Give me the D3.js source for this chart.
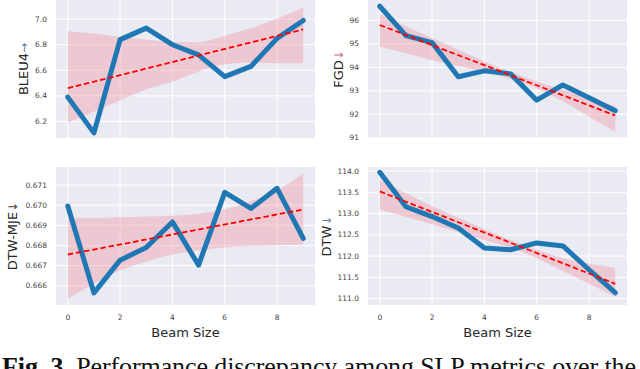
<!DOCTYPE html>
<html><head><meta charset="utf-8">
<script src="https://cdn.jsdelivr.net/npm/d3@7"></script>
<style>body{margin:0;background:#fff}svg{display:block}</style>
</head><body>
<svg id="c" width="640" height="369"></svg>
<script>
const beam = [0,1,2,3,4,5,6,7,8,9];
const xTicks = [0,2,4,6,8];

const bleu = [6.39,6.11,6.84,6.93,6.80,6.72,6.55,6.63,6.85,6.99];
const bleuTrend = [6.46,6.92];
const bleuLo = [6.19,6.275,6.366,6.45,6.51,6.59,6.647,6.66,6.655,6.655];
const bleuHi = [6.906,6.888,6.86,6.84,6.82,6.82,6.87,6.93,7.005,7.09];
const bleuTicks = [6.2,6.4,6.6,6.8,7.0];

const fgd = [96.6,95.35,95.05,93.6,93.85,93.72,92.6,93.25,92.7,92.15];
const fgdTrend = [95.8,91.95];
const fgdLo = [94.88,94.60,94.30,94.05,93.80,93.50,93.10,92.55,91.90,91.26];
const fgdHi = [96.27,95.75,95.25,94.75,94.25,93.80,93.40,93.05,92.70,92.35];
const fgdTicks = [91,92,93,94,95,96];

const mje = [0.66996,0.66564,0.66727,0.66790,0.66917,0.66702,0.67064,0.66984,0.67084,0.66835];
const mjeTrend = [0.66755,0.66979];
const mjeLo = [0.66536,0.66610,0.66675,0.66720,0.66755,0.66775,0.66790,0.66797,0.66801,0.66805];
const mjeHi = [0.66934,0.66936,0.66940,0.66944,0.66948,0.66958,0.66980,0.67020,0.67075,0.67158];
const mjeTicks = [0.666,0.667,0.668,0.669,0.670,0.671];

const dtw = [113.97,113.16,112.93,112.66,112.19,112.15,112.31,112.24,111.68,111.14];
const dtwTrend = [113.52,111.35];
const dtwLo = [113.09,112.92,112.75,112.56,112.38,112.20,111.95,111.65,111.35,111.04];
const dtwHi = [113.79,113.48,113.18,112.90,112.63,112.38,112.15,111.95,111.82,111.72];
const dtwTicks = [111.0,111.5,112.0,112.5,113.0,113.5,114.0];

const svg = d3.select("#c");
const FONT = "DejaVu Sans, sans-serif";

function panel(o){
  const g = svg.append("g");
  const x = d3.scaleLinear().domain([-0.45,9.45]).range([o.x0,o.x1]);
  const y = d3.scaleLinear().domain(o.ydom).range([o.y1,o.y0]);
  g.append("rect").attr("x",o.x0).attr("y",o.y0).attr("width",o.x1-o.x0).attr("height",o.y1-o.y0).attr("fill","#eaeaf2");
  g.selectAll(".gx").data(xTicks).join("line").attr("x1",d=>x(d)).attr("x2",d=>x(d)).attr("y1",o.y0).attr("y2",o.y1).attr("stroke","#fff").attr("stroke-width",1);
  g.selectAll(".gy").data(o.ticks).join("line").attr("x1",o.x0).attr("x2",o.x1).attr("y1",d=>y(d)).attr("y2",d=>y(d)).attr("stroke","#fff").attr("stroke-width",1);
  g.selectAll(".ty").data(o.ticks).join("text").attr("x",o.x0-9).attr("y",d=>y(d)).attr("dy","0.35em")
    .attr("text-anchor","end").attr("font-family",FONT).attr("font-size",7.5).attr("fill","#444").text(d=>o.fmt(d));
  if(o.xlabels){
    g.selectAll(".tx").data(xTicks).join("text").attr("x",d=>x(d)).attr("y",o.y1+14.5)
      .attr("text-anchor","middle").attr("font-family",FONT).attr("font-size",7.5).attr("fill","#444").text(d=>d);
    g.append("text").attr("x",(o.x0+o.x1)/2).attr("y",o.y1+31.5).attr("text-anchor","middle")
      .attr("font-family",FONT).attr("font-size",13).attr("fill","#262626").text("Beam Size");
  }
  const area = d3.area().x((d,i)=>x(beam[i])).y0((d,i)=>y(o.lo[i])).y1((d,i)=>y(o.hi[i])).curve(d3.curveMonotoneX);
  g.append("path").datum(o.lo).attr("d",area).attr("fill","#f08090").attr("fill-opacity",0.32);
  const line = d3.line().x((d,i)=>x(beam[i])).y(d=>y(d));
  g.append("path").datum(o.data).attr("d",line).attr("fill","none").attr("stroke","#1f77b4").attr("stroke-width",5).attr("stroke-linejoin","round").attr("stroke-linecap","round");
  g.append("line").attr("x1",x(0)).attr("x2",x(9)).attr("y1",y(o.trend[0])).attr("y2",y(o.trend[1]))
    .attr("stroke","#ff0000").attr("stroke-width",1.8).attr("stroke-dasharray","5.5,2.8");
  const t = g.append("text").attr("transform",`translate(${o.lx},${(o.y0+o.y1)/2}) rotate(-90)`)
    .attr("text-anchor","middle").attr("dy","0.35em").attr("font-family",FONT).attr("font-size",13).attr("fill","#262626");
  t.append("tspan").text(o.label);
  t.append("tspan").attr("fill",o.arrowColor).attr("font-size",12).text(o.arrow);
}

panel({x0:56,x1:315,y0:0,y1:138,ydom:[6.07,7.15],ticks:bleuTicks,fmt:d3.format(".1f"),data:bleu,trend:bleuTrend,lo:bleuLo,hi:bleuHi,
  label:"BLEU4",arrow:"→",arrowColor:"#6d7ea0",lx:23,xlabels:false});
panel({x0:368,x1:627,y0:0,y1:138,ydom:[90.99,96.865],ticks:fgdTicks,fmt:d3.format("d"),data:fgd,trend:fgdTrend,lo:fgdLo,hi:fgdHi,
  label:"FGD",arrow:"↓",arrowColor:"#c8707e",lx:338,xlabels:false});
panel({x0:56,x1:315,y0:167,y1:305,ydom:[0.66504,0.67190],ticks:mjeTicks,fmt:d3.format(".3f"),data:mje,trend:mjeTrend,lo:mjeLo,hi:mjeHi,
  label:"DTW-MJE",arrow:"↓",arrowColor:"#404040",lx:12.5,xlabels:true});
panel({x0:368,x1:627,y0:167,y1:305,ydom:[110.852,114.094],ticks:dtwTicks,fmt:d3.format(".1f"),data:dtw,trend:dtwTrend,lo:dtwLo,hi:dtwHi,
  label:"DTW",arrow:"↓",arrowColor:"#6a80aa",lx:326,xlabels:true});

const cap = svg.append("text").attr("x",2).attr("y",375).attr("font-family","Liberation Serif, Times New Roman, serif")
  .attr("font-size",26).attr("fill","#111").attr("textLength",634).attr("lengthAdjust","spacing");
cap.append("tspan").attr("font-weight","bold").text("Fig. 3.");
cap.append("tspan").text(" Performance discrepancy among SLP metrics over the");
</script>
</body></html>
